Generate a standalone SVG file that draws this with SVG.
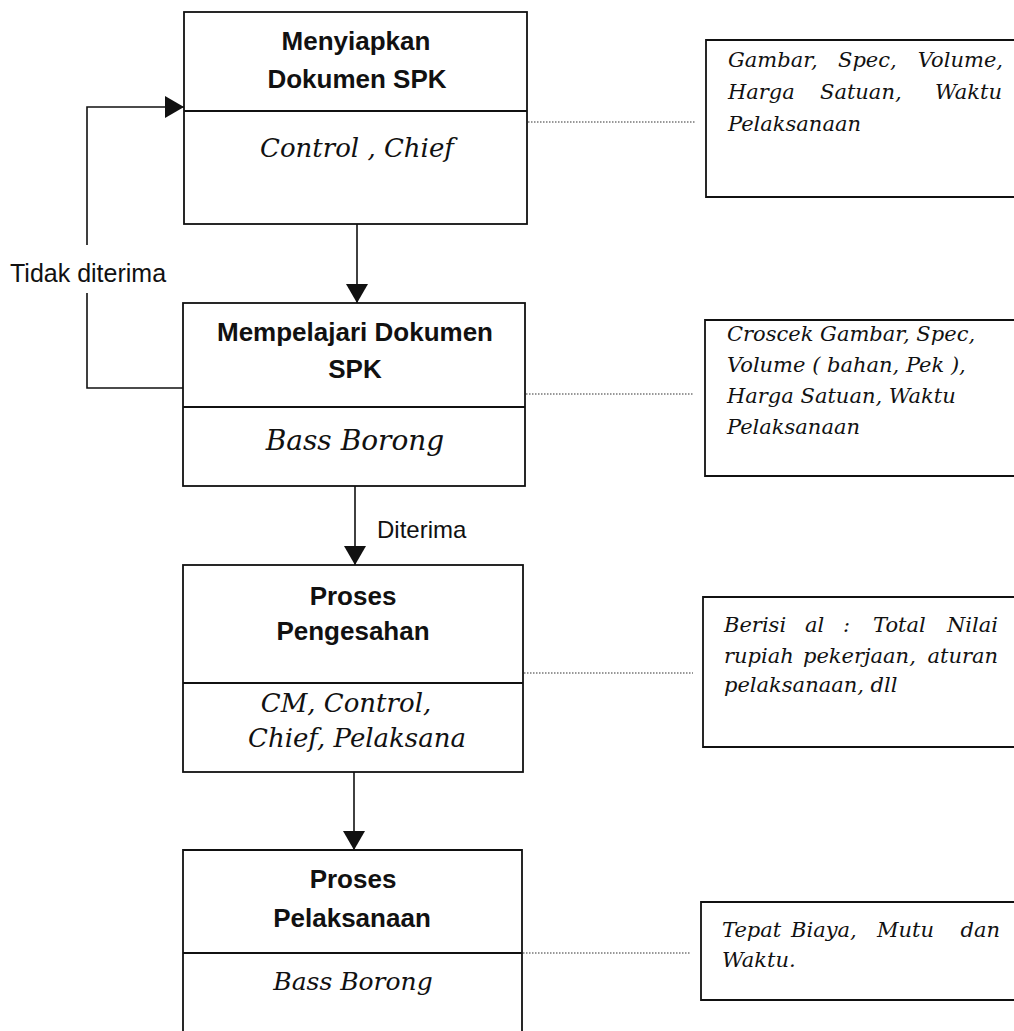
<svg xmlns="http://www.w3.org/2000/svg" width="1014" height="1031" viewBox="0 0 1014 1031">
  <style>
    .box { fill: none; stroke: #111; stroke-width: 1.8; }
    .sep { stroke: #111; stroke-width: 1.8; }
    .title { font-family: "Liberation Sans", Arial, sans-serif; font-weight: bold; font-size: 26px; text-anchor: middle; fill: #111; }
    .role { font-family: "DejaVu Serif", "Liberation Serif", serif; font-style: italic; font-size: 26px; text-anchor: middle; fill: #111; }
    .note { font-family: "DejaVu Serif", "Liberation Serif", serif; font-style: italic; font-size: 21px; fill: #111; }
    .end { text-anchor: end; }
    .lbl { font-family: "Liberation Sans", Arial, sans-serif; font-size: 25px; fill: #111; }
    .flow { fill: none; stroke: #111; stroke-width: 1.6; }
    .dot { fill: none; stroke: #333; stroke-width: 1.2; stroke-dasharray: 1.5 1.5; }
  </style>
  <defs>
    <marker id="arr" viewBox="0 0 19 22" refX="19" refY="11" markerWidth="19" markerHeight="22" orient="auto" markerUnits="userSpaceOnUse">
      <path d="M0,0 L19,11 L0,22 z" fill="#111"/>
    </marker>
  </defs>
  <rect width="1014" height="1031" fill="#fff"/>

  <!-- process boxes: title on top, responsible party below the divider -->
  <g id="menyiapkan">
    <rect class="box" x="184" y="12" width="343" height="212"/>
    <line class="sep" x1="184" y1="111" x2="527" y2="111"/>
    <text class="title" x="356" y="50">Menyiapkan</text>
    <text class="title" x="357" y="88">Dokumen SPK</text>
    <text class="role" x="357" y="157">Control , Chief</text>
  </g>

  <g id="mempelajari">
    <rect class="box" x="183" y="303" width="342" height="183"/>
    <line class="sep" x1="183" y1="407" x2="525" y2="407"/>
    <text class="title" x="355" y="341">Mempelajari Dokumen</text>
    <text class="title" x="355" y="378">SPK</text>
    <text class="role" x="355" y="450" style="font-size:28px">Bass Borong</text>
  </g>

  <g id="pengesahan">
    <rect class="box" x="183" y="565" width="340" height="207"/>
    <line class="sep" x1="183" y1="683" x2="523" y2="683"/>
    <text class="title" x="353" y="605">Proses</text>
    <text class="title" x="353" y="640">Pengesahan</text>
    <text class="role" x="346" y="712">CM, Control,</text>
    <text class="role" x="357" y="747">Chief, Pelaksana</text>
  </g>

  <g id="pelaksanaan">
    <path class="box" d="M183,1040 V850 H522 V1040"/>
    <line class="sep" x1="183" y1="953" x2="522" y2="953"/>
    <text class="title" x="353" y="888">Proses</text>
    <text class="title" x="352" y="927">Pelaksanaan</text>
    <text class="role" x="353" y="990" style="font-size:25px">Bass Borong</text>
  </g>

  <!-- side notes, running off the right edge -->
  <g id="note-dokumen">
    <path class="box" d="M1020,40 H706 V197 H1020"/>
    <text class="note" y="67"><tspan x="728">Gambar,</tspan><tspan x="838">Spec,</tspan><tspan x="1003" class="end">Volume,</tspan></text>
    <text class="note" y="99"><tspan x="728">Harga</tspan><tspan x="820">Satuan,</tspan><tspan x="1002" class="end">Waktu</tspan></text>
    <text class="note" x="728" y="131">Pelaksanaan</text>
  </g>

  <g id="note-croscek">
    <path class="box" d="M1020,320 H705 V476 H1020"/>
    <text class="note" x="727" y="341">Croscek Gambar, Spec,</text>
    <text class="note" x="727" y="372">Volume ( bahan, Pek ),</text>
    <text class="note" x="727" y="403">Harga Satuan, Waktu</text>
    <text class="note" x="727" y="434">Pelaksanaan</text>
  </g>

  <g id="note-berisi">
    <path class="box" d="M1020,597 H703 V747 H1020"/>
    <text class="note" y="632"><tspan x="724">Berisi</tspan><tspan x="805">al</tspan><tspan x="843">:</tspan><tspan x="873">Total</tspan><tspan x="998" class="end">Nilai</tspan></text>
    <text class="note" y="663"><tspan x="724">rupiah</tspan><tspan x="803">pekerjaan,</tspan><tspan x="998" class="end">aturan</tspan></text>
    <text class="note" x="724" y="692">pelaksanaan, dll</text>
  </g>

  <g id="note-tepat">
    <path class="box" d="M1020,902 H701 V1000 H1020"/>
    <text class="note" y="937"><tspan x="722">Tepat</tspan><tspan x="791">Biaya,</tspan><tspan x="877">Mutu</tspan><tspan x="1000" class="end">dan</tspan></text>
    <text class="note" x="722" y="967">Waktu.</text>
  </g>

  <!-- flow arrows, the rejection loop and the dotted note leaders -->
  <g id="connectors">
    <line class="flow" x1="357" y1="224" x2="357" y2="303" marker-end="url(#arr)"/>
    <line class="flow" x1="355" y1="486" x2="355" y2="565" marker-end="url(#arr)"/>
    <line class="flow" x1="354" y1="772" x2="354" y2="850" marker-end="url(#arr)"/>
    <path class="flow" d="M183,388 H87 V293"/>
    <path class="flow" d="M87,245 V107 H184" marker-end="url(#arr)"/>
    <text class="lbl" x="10" y="282">Tidak diterima</text>
    <text class="lbl" x="377" y="538" style="font-size:24px">Diterima</text>
    <line class="dot" x1="528" y1="122" x2="695" y2="122"/>
    <line class="dot" x1="526" y1="394" x2="693" y2="394"/>
    <line class="dot" x1="524" y1="673" x2="693" y2="673"/>
    <line class="dot" x1="523" y1="953" x2="690" y2="953"/>
  </g>
</svg>
